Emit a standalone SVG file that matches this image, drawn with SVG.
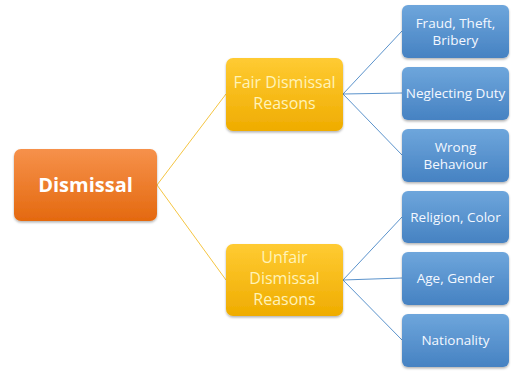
<svg xmlns="http://www.w3.org/2000/svg" width="531" height="371" viewBox="0 0 531 371">
<defs>
<linearGradient id="gO" x1="0" y1="0" x2="0" y2="1"><stop offset="0" stop-color="#F6914B"/><stop offset="1" stop-color="#E4690F"/></linearGradient>
<linearGradient id="gY" x1="0" y1="0" x2="0" y2="1"><stop offset="0" stop-color="#FFCB33"/><stop offset="1" stop-color="#EFAC00"/></linearGradient>
<linearGradient id="gB" x1="0" y1="0" x2="0" y2="1"><stop offset="0" stop-color="#6EA6DC"/><stop offset="1" stop-color="#4682C2"/></linearGradient>
<filter id="sh" x="-10%" y="-10%" width="120%" height="130%"><feDropShadow dx="0" dy="1.5" stdDeviation="1.2" flood-color="#000" flood-opacity="0.3"/></filter>
</defs>
<style>
text{font-family:"Open Sans","Liberation Sans",sans-serif;text-anchor:middle}
.o{fill:url(#gO);filter:url(#sh)}
.y{fill:url(#gY);filter:url(#sh)}
.b{fill:url(#gB);filter:url(#sh)}
.to{fill:#FFFFFF;font-size:20px;font-weight:bold}
.ty{fill:#FFF3B8;font-size:16px}
.tb{fill:#F4F8FF;font-size:13.5px}
.cy{stroke:#F5C542;stroke-width:1;fill:none}
.cb{stroke:#5B93CC;stroke-width:1;fill:none}
</style>
<rect width="531" height="371" fill="#FFFFFF"/>
<g id="connectors">
<path class="cy" d="M157,185 L226,94 M157,185 L226,280"/>
<path class="cb" d="M343,94 L402,31 M343,94 L402,93 M343,94 L402,155"/>
<path class="cb" d="M343,280 L402,217 M343,280 L402,278 M343,280 L402,340"/>
</g>
<g id="dismissal"><rect class="o" x="14" y="149" width="143" height="72" rx="7"/><text class="to" x="85.5" y="192">Dismissal</text></g>
<g id="fair"><rect class="y" x="226" y="58" width="117" height="73" rx="7"/><text class="ty" x="284.5" y="88">Fair Dismissal</text><text class="ty" x="284.5" y="109">Reasons</text></g>
<g id="unfair"><rect class="y" x="226" y="244" width="117" height="72" rx="7"/><text class="ty" x="284.5" y="263">Unfair</text><text class="ty" x="284.5" y="284">Dismissal</text><text class="ty" x="284.5" y="305">Reasons</text></g>
<g id="fraud"><rect class="b" x="402" y="5" width="107" height="53" rx="6"/><text class="tb" x="455.5" y="28">Fraud, Theft,</text><text class="tb" x="455.5" y="45">Bribery</text></g>
<g id="neglect"><rect class="b" x="402" y="67" width="107" height="53" rx="6"/><text class="tb" x="455.5" y="98">Neglecting Duty</text></g>
<g id="wrong"><rect class="b" x="402" y="129" width="107" height="53" rx="6"/><text class="tb" x="455.5" y="152">Wrong</text><text class="tb" x="455.5" y="169">Behaviour</text></g>
<g id="religion"><rect class="b" x="402" y="191" width="107" height="52" rx="6"/><text class="tb" x="455.5" y="222">Religion, Color</text></g>
<g id="age"><rect class="b" x="402" y="252" width="107" height="53" rx="6"/><text class="tb" x="455.5" y="283">Age, Gender</text></g>
<g id="nationality"><rect class="b" x="402" y="314" width="107" height="53" rx="6"/><text class="tb" x="455.5" y="345">Nationality</text></g>
</svg>
